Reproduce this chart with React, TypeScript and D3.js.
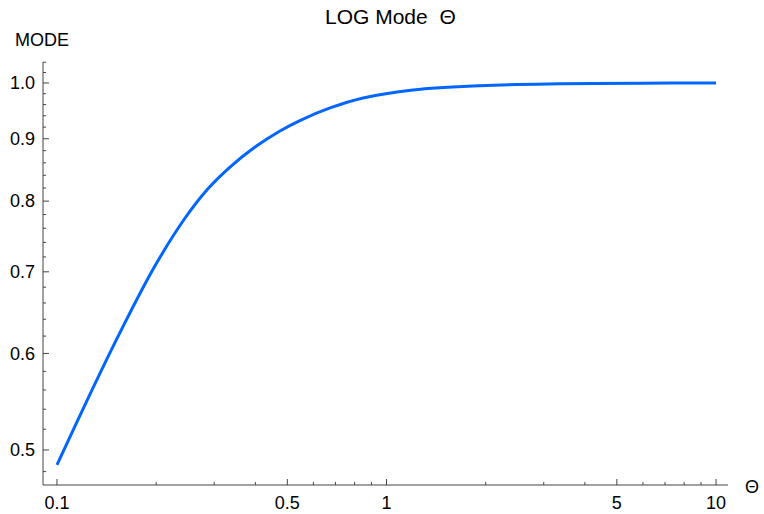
import React from "react";
import * as d3 from "d3";

const thetaValues = [0.1, 0.126, 0.155, 0.198, 0.243, 0.285, 0.335, 0.399, 0.475, 0.546, 0.674, 0.849, 1.204, 1.922, 3.36, 6.0, 10];
const modeValues = [0.4861, 0.5557, 0.6235, 0.7073, 0.7727, 0.817, 0.8532, 0.8861, 0.9134, 0.9315, 0.9539, 0.9721, 0.9869, 0.9949, 0.9983, 0.9996, 1.0];

const xMajorTicks = [0.1, 0.5, 1, 5, 10];
const xMinorTicks = [0.2, 0.3, 0.4, 0.6, 0.7, 0.8, 0.9, 2, 3, 4, 6, 7, 8, 9];
const yMajorTicks = [0.5, 0.6, 0.7, 0.8, 0.9, 1.0];
const yMinorTicks = [0.48, 0.52, 0.54, 0.56, 0.58, 0.62, 0.64, 0.66, 0.68, 0.72, 0.74, 0.76, 0.78, 0.82, 0.84, 0.86, 0.88, 0.92, 0.94, 0.96, 0.98, 1.02, 1.04];

const xDomain = [0.0907, 10.87];
const yDomain = [0.468, 1.0404];

const W = 764, H = 514;
const left = 43, right = 728, top = 62, bottom = 485;

export default function App() {
  const x = d3.scaleLog().domain(xDomain).range([left, right]);
  const y = d3.scaleLog().domain(yDomain).range([bottom, top]);
  const data = thetaValues.map((t, i) => [t, modeValues[i]] as [number, number]);
  const line = d3.line<[number, number]>()
    .x(d => x(d[0]))
    .y(d => y(d[1]))
    .curve(d3.curveCatmullRom.alpha(0.5));
  const font = "'Liberation Sans', Arial, sans-serif";
  const axisColor = "#444";
  const fmtX = (v: number) => String(v);
  const fmtY = (v: number) => v.toFixed(1);
  return (
    <svg width={W} height={H} style={{ position: "absolute", left: 0, top: 0, background: "#fff" }} fontFamily={font}>
      <text x={325} y={24} fontSize={21} fill="#000" style={{ whiteSpace: "pre" }}>{"LOG Mode  Θ"}</text>
      <text x={15} y={46} fontSize={18} fill="#000">MODE</text>
      <text x={745} y={493} fontSize={18} fill="#000">Θ</text>
      <line x1={left} x2={left} y1={top} y2={bottom} stroke={axisColor} strokeWidth={1} />
      <line x1={left} x2={right} y1={bottom} y2={bottom} stroke={axisColor} strokeWidth={1} />
      {xMajorTicks.map(t => (
        <g key={"xm" + t}>
          <line x1={x(t)} x2={x(t)} y1={bottom} y2={bottom - 6} stroke={axisColor} />
          <text x={x(t)} y={509} fontSize={18} textAnchor="middle" fill="#000">{fmtX(t)}</text>
        </g>
      ))}
      {xMinorTicks.map(t => (
        <line key={"xn" + t} x1={x(t)} x2={x(t)} y1={bottom} y2={bottom - 3} stroke={axisColor} />
      ))}
      {yMajorTicks.map(t => (
        <g key={"ym" + t}>
          <line x1={left} x2={left + 6} y1={y(t)} y2={y(t)} stroke={axisColor} />
          <text x={35} y={y(t)} dy="0.35em" fontSize={18} textAnchor="end" fill="#000">{fmtY(t)}</text>
        </g>
      ))}
      {yMinorTicks.map(t => (
        <line key={"yn" + t} x1={left} x2={left + 3} y1={y(t)} y2={y(t)} stroke={axisColor} />
      ))}
      <path d={line(data) || ""} fill="none" stroke="#0066ff" strokeWidth={3} />
    </svg>
  );
}
